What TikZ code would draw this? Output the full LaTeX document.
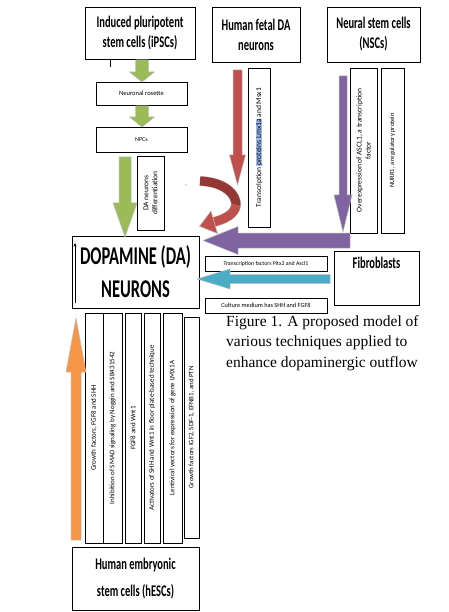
\documentclass[tikz,border=0pt]{standalone}
\usepackage{fontspec}
\usepackage{graphicx}
\setmainfont{Carlito}
\newfontfamily\capserif{Liberation Serif}
\usetikzlibrary{arrows.meta}
\setlength{\fboxsep}{0pt}
\newcommand\vstretch[1]{\scalebox{1}[1.55]{#1}}
\definecolor{grn}{HTML}{9BBB59}
\definecolor{redA}{HTML}{C0504D}
\definecolor{redB}{HTML}{953735}
\definecolor{purp}{HTML}{8064A2}
\definecolor{cyn}{HTML}{4BACC6}
\definecolor{orng}{HTML}{F79646}
\definecolor{hlblue}{HTML}{9DBBEA}
\tikzset{
  box/.style={draw=black, line width=0.7pt, inner sep=1pt, align=center},
  headbox/.style={box, font=\bfseries\fontsize{10.5}{20}\selectfont},
  tinybox/.style={box, font=\fontsize{6.5}{8}\selectfont},
  arr/.style={draw=white!75!black, line width=0.5pt},
}
\newcommand\blkdown[7]{\filldraw[arr, fill=#1] ({#2-#5},#3) -- ({#2+#5},#3) -- ({#2+#5},{#4-#7}) -- ({#2+#6},{#4-#7}) -- (#2,#4) -- ({#2-#6},{#4-#7}) -- ({#2-#5},{#4-#7}) -- cycle;}
\newcommand\blkup[7]{\filldraw[arr, fill=#1] ({#2-#5},#3) -- ({#2+#5},#3) -- ({#2+#5},{#4+#7}) -- ({#2+#6},{#4+#7}) -- (#2,#4) -- ({#2-#6},{#4+#7}) -- ({#2-#5},{#4+#7}) -- cycle;}
\newcommand\blkleft[7]{\filldraw[arr, fill=#1] (#3,{#2-#5}) -- ({#4+#7},{#2-#5}) -- ({#4+#7},{#2-#6}) -- (#4,#2) -- ({#4+#7},{#2+#6}) -- ({#4+#7},{#2+#5}) -- (#3,{#2+#5}) -- cycle;}
\begin{document}
\begin{tikzpicture}[x=1pt,y=-1pt]
\fill[white] (0,0) rectangle (448,612);
\useasboundingbox (0,0) rectangle (448,612);

% top source boxes
\node[headbox, minimum width=110pt, minimum height=52pt] (ipsc) at (140,33) {\vstretch{Induced pluripotent}\\\vstretch{stem cells (iPSCs)}};
\node[headbox, minimum width=88pt, minimum height=55pt] (fetal) at (256,34.5) {\vstretch{Human fetal DA}\\\vstretch{neurons}};
\node[headbox, minimum width=93pt, minimum height=55pt] (nsc) at (373.5,34.5) {\vstretch{Neural stem cells}\\\vstretch{(NSCs)}};

% iPSC chain
\node[tinybox, minimum width=91pt, minimum height=23pt] (rosette) at (141.5,93.5) {Neuronal rosette};
\node[tinybox, minimum width=91pt, minimum height=25pt, font=\fontsize{6}{7}\selectfont] (npc) at (141.5,139.5) {NPCs};
\node[box, rotate=90, minimum width=74pt, minimum height=27pt, font=\fontsize{7.5}{9}\selectfont] (dadiff) at (150.5,193) {DA neurons\\differentiation};

% target
\node[box, line width=0.9pt, minimum width=127pt, minimum height=72pt, font=\bfseries\fontsize{16.5}{33}\selectfont] (da) at (135.5,272) {\vstretch{DOPAMINE (DA)}\\\vstretch{NEURONS}};
\coordinate (ta) at (75,303);
\coordinate (tb) at (75,243);
\draw[-{Stealth[length=3.5pt,width=3pt]}, line width=0.7pt] (ta) -- (tb);

% fetal
\node[box, rotate=90, minimum width=159pt, minimum height=22pt, font=\fontsize{7.5}{9}\selectfont] (transc) at (259,147.5) {Transcription \colorbox{hlblue}{proteins Lmx1a} and Msx1};

% NSC
\node[box, rotate=90, minimum width=165pt, minimum height=27pt, font=\fontsize{7.5}{9}\selectfont] (overexp) at (363.5,150.5) {Overexpression of ASCL1, a transcription\\factor};
\node[box, rotate=90, minimum width=165pt, minimum height=23pt, font=\fontsize{6.5}{8}\selectfont] (nurr) at (392.5,150.5) {NURR1, a regulatory protein};

% fibroblasts
\node[box, minimum width=85pt, minimum height=54pt, label={[anchor=north, yshift=-3pt, font=\bfseries\fontsize{10.5}{12}\selectfont]north:\vstretch{Fibroblasts}}] (fibro) at (376.5,278) {};
\node[box, minimum width=122pt, minimum height=15pt, font=\fontsize{5.8}{7}\selectfont] (pitx) at (266,263.5) {Transcription factors Pitx3 and Ascl1};
\node[box, minimum width=122pt, minimum height=15pt, font=\fontsize{6.3}{7}\selectfont] (culture) at (266,305.5) {Culture medium has SHH and FGF8};

% hESC
\node[headbox, minimum width=127pt, minimum height=63pt, font=\bfseries\fontsize{10.5}{27}\selectfont] (hesc) at (135.5,578.5) {\vstretch{Human embryonic}\\\vstretch{stem cells (hESCs)}};
\node[box, rotate=90, minimum width=230pt, minimum height=18pt, font=\fontsize{7}{8}\selectfont] (b1) at (94,428) {Growth factors, FGF8 and SHH};
\node[box, rotate=90, minimum width=230pt, minimum height=19pt, line width=0.9pt, font=\fontsize{7}{8}\selectfont] (b2) at (112.5,428) {Inhibition of SMAD signaling by Noggin and SB431542};
\node[box, rotate=90, minimum width=230pt, minimum height=16pt, font=\fontsize{7}{8}\selectfont] (b3) at (133,428) {FGF8 and Wnt1};
\node[box, rotate=90, minimum width=230pt, minimum height=16pt, font=\fontsize{7}{8}\selectfont] (b4) at (152,428) {Activators of SHH and Wnt1 in floor plate-based technique};
\node[box, rotate=90, minimum width=230pt, minimum height=19pt, font=\fontsize{7}{8}\selectfont] (b5) at (172.5,428) {Lentiviral vectors for expression of gene LMX1A};
\node[box, rotate=90, minimum width=221pt, minimum height=15pt, line width=0.9pt, font=\fontsize{6.8}{8}\selectfont] (b6) at (191.5,427.5) {Growth factors IGF2, SDF-1, EFNB1, and PTN};

% caption
\node[anchor=north west, align=left, inner sep=0pt, font=\capserif\fontsize{15.5}{20.5}\selectfont] (cap) at (226,315) {Figure 1. A proposed model of\\various techniques applied to\\enhance dopaminergic outflow};

% tick under iPSC box
\coordinate (tk1) at (110,59);
\coordinate (tk2) at (110,67);
\draw[line width=0.6pt] (tk1) -- (tk2);

% block arrows
\blkdown{grn}{142}{60}{82}{6.5}{12.5}{10}
\blkdown{grn}{142}{106}{127}{6.5}{12.5}{10}
\blkdown{grn}{125}{157}{237}{6}{12}{34}
\blkdown{redA}{237.5}{70}{185}{4.5}{8}{30}
\blkdown{purp}{343}{76}{232}{4}{9}{37}
\blkleft{purp}{240.5}{350}{203}{7.5}{14}{35}
\blkleft{cyn}{279}{330}{197}{4.5}{10}{33}
\blkup{orng}{76}{540}{318}{5}{10}{54}

% curved red arrow
\draw[white!75!black, line width=10pt] (200,181) .. controls (224,182) and (237,194) .. (236,206);
\draw[redB, line width=9pt] (200,181) .. controls (224,182) and (237,194) .. (236,206);
\draw[white!75!black, line width=10pt] (236,205) .. controls (235,214) and (225,219) .. (214,222);
\draw[redA, line width=9pt] (236,205) .. controls (235,214) and (225,219) .. (214,222);
\filldraw[arr, fill=redA] (199.5,226.3) -- (211,211) -- (217.5,233.5) -- cycle;

\fill[blue!70] (186,185) circle (0.7);
\end{tikzpicture}
\end{document}
